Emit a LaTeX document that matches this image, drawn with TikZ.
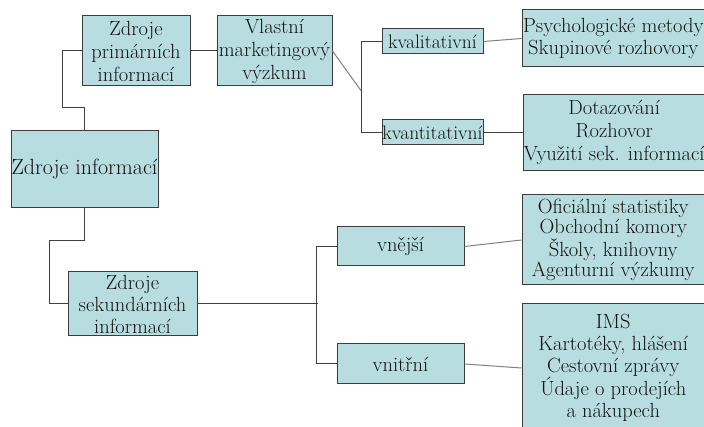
\documentclass[tikz,border=0pt]{standalone}
\usepackage{xcolor}
\usetikzlibrary{positioning}
\definecolor{boxfill}{HTML}{B7DDE1}
\definecolor{boxline}{HTML}{3C3C3C}
\definecolor{ink}{HTML}{111111}

\begin{document}
\begin{tikzpicture}[
    x=1pt, y=1pt,
    font=\fontsize{20.5}{23}\selectfont,
    box/.style={draw=boxline, fill=boxfill, line width=1pt, align=center, inner sep=0pt, text=ink, minimum width=#1},
    box/.default=127pt,
    link/.style={draw=black!75, line width=1pt},
    slant/.style={draw=black!50, line width=1pt},
  ]
  \useasboundingbox (0,0) rectangle (704,-427);
  \clip (0,0) rectangle (704,-427);
  % ---- left column
  \node[box=147pt, minimum height=77pt, font=\fontsize{22}{25}\selectfont] (zi) at (84.5,-169.5) {Zdroje informací};
  \node[box=108pt, minimum height=70pt] (prim) at (136,-51) {Zdroje\\ primárních\\ informací};
  \node[box=115pt, minimum height=70pt, right=26pt of prim] (vlast) {Vlastní\\ marketingový\\ výzkum};
  \node[box=129pt, minimum height=64pt, font=\fontsize{20.5}{22}\selectfont] (sek) at (132.5,-304) {Zdroje\\ sekundárních\\ informací};
  % ---- middle column
  \node[box=101pt, minimum height=25pt, font=\fontsize{19.5}{23}\selectfont] (kval) at (432.5,-41.5) {kvalitativní};
  \node[box=101pt, minimum height=25pt, font=\fontsize{19.5}{23}\selectfont, below=65pt of kval] (kvant) {kvantitativní};
  \node[box, minimum height=39pt] (vnej) at (400.5,-246.5) {vnější};
  \node[box, minimum height=40pt, below=77pt of vnej] (vnit) {vnitřní};
  % ---- right column
  \node[box=182.5pt, minimum height=57pt, font=\fontsize{20.5}{22}\selectfont] (psych) at (613.25,-38.5) {Psychologické metody\\ Skupinové rozhovory};
  \node[box=182.5pt, minimum height=76pt, right=39pt of kvant] (dotaz) {Dotazování\\ Rozhovor\\ Využití sek. informací};
  \node[box=182.5pt, minimum height=90pt, font=\fontsize{20.5}{20}\selectfont] (ofic) at (613.25,-240) {Oficiální statistiky\\ Obchodní komory\\ Školy, knihovny\\ Agenturní výzkumy};
  \node[box=182.5pt, minimum height=128pt, font=\fontsize{20.5}{22}\selectfont] (ims) at (613.25,-368) {IMS\\ Kartotéky, hlášení\\ Cestovní zprávy\\ Údaje o prodejích\\ a nákupech};
  \coordinate (kvsplit) at (362,-92);
  % ---- connectors
  \draw[link] (zi.north) -- ++(0,23) -- ++(-22,0) |- (prim.west);
  \draw[link] (zi.south) -- ++(0,-32) -- ++(-35,0) |- (sek.west);
  \draw[link] (prim.east) -- (vlast.west);
  \draw[slant] (vlast.east) -- (kvsplit);
  \draw[link] (kval.west) -- ++(-20,0) |- (kvant.west);
  \draw[slant] (kval.east) -- (psych.west);
  \draw[link] (kvant.east) -- (dotaz.west);
  \draw[link] (sek.east) -- ++(120,0);
  \draw[link] (vnej.west) -- ++(-20,0) |- (vnit.west);
  \draw[slant] (vnej.east) -- (ofic.west);
  \draw[slant] (vnit.east) -- (ims.west);
\end{tikzpicture}
\end{document}
